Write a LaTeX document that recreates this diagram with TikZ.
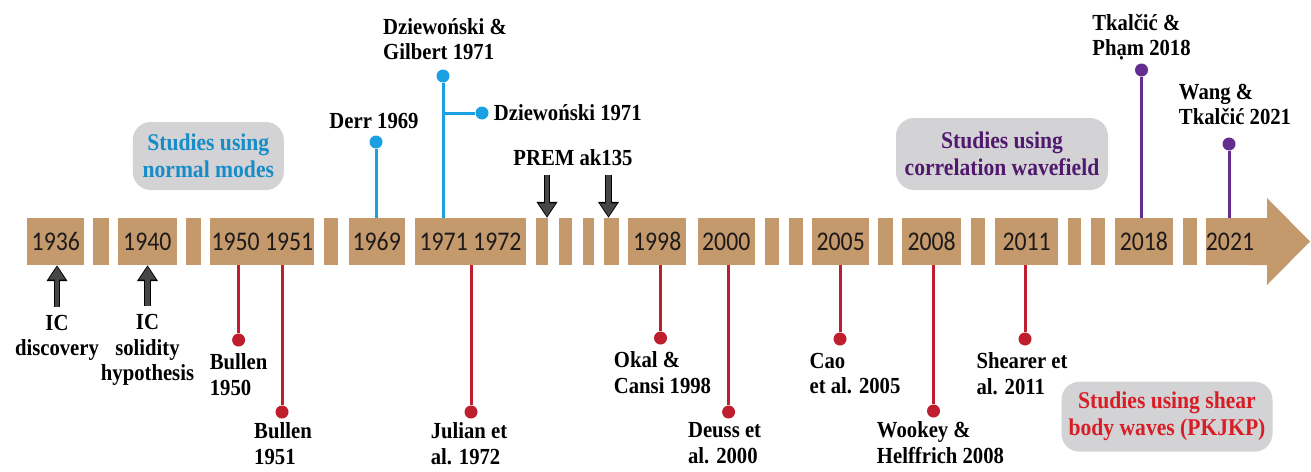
\documentclass[tikz,border=0pt]{standalone}
\usepackage{fontspec}
\setmainfont{Liberation Serif}[FakeStretch=0.9]
\newfontfamily\yearfont[FakeStretch=0.88]{Carlito}
\usetikzlibrary{positioning, arrows.meta}
\definecolor{bartan}{RGB}{196,154,108}
\definecolor{yeartext}{RGB}{30,26,27}
\definecolor{stemblue}{RGB}{27,161,226}
\definecolor{stemred}{RGB}{190,30,45}
\definecolor{stempurple}{RGB}{102,45,145}
\definecolor{boxgray}{RGB}{211,211,213}
\definecolor{normalblue}{RGB}{22,140,200}
\definecolor{corrpurple}{RGB}{80,25,110}
\definecolor{shearred}{RGB}{215,30,38}
\definecolor{arrowgray}{RGB}{70,70,70}
\tikzset{
	yearbox/.style={
		fill=bartan,
		inner sep=0pt,
		minimum height=47pt,
		text=yeartext,
		font=\yearfont\fontsize{27}{27}\selectfont
	},
	stemdot/.style={
		circle,
		fill,
		inner sep=0pt,
		minimum size=13pt
	},
	stem/.style={line width=3pt},
	authors/.style={
		inner sep=0pt,
		align=left,
		font=\bfseries\fontsize{23}{25.5}\selectfont
	},
	studybox/.style={
		fill=boxgray,
		rounded corners=18pt,
		inner sep=0pt,
		align=center,
		font=\bfseries\fontsize{24}{27}\selectfont
	},
	blockarrow/.style={
		draw=arrowgray,
		line width=4.5pt,
		shorten >=1.5pt,
		-{Triangle[width=16pt, length=13pt]},
		preaction={draw=black, line width=6.5pt, shorten >=0pt, -{Triangle[width=20pt, length=16pt]}}
	}
}

\begin{document}
\begin{tikzpicture}[x=1pt, y=-1pt]
	\fill[white] (0,0) rectangle (1311,471);
	\useasboundingbox (0,0) rectangle (1311,471);

	% timeline bar
	\fill[bartan] (1250,218) -- (1267,218) -- (1267,198) -- (1310,241.5) -- (1267,285) -- (1267,265) -- (1250,265) -- cycle;
	\foreach \xa/\xb/\yr/\nm in {27.4/84.2/1936/b1936, 117.8/176.8/1940/b1940, 210.4/314.4/{1950 1951}/b1950,
		348.5/404.9/1969/b1969, 415/526/{1971 1972}/b1971, 628.4/686/1998/b1998, 697.8/754.7/2000/b2000,
		812.4/869/2005/b2005, 902.3/961/2008/b2008, 995.2/1058/2011/b2011, 1115/1172.7/2018/b2018, 1207/1253/2021/b2021} {
		\node[yearbox, minimum width={\xb-\xa}] (\nm) at ({(\xa+\xb)/2},241.5) {\yr};
	}
	\foreach \xa/\xb in {93.4/108.6, 186.4/200.8, 324/338, 535.8/548.4, 558.5/572.4, 582.9/594.3, 604/618.7,
		765/779, 788.5/802.6, 878.3/892.5, 970.8/985.3, 1067.9/1080.7, 1090.6/1105.1, 1182.6/1197.1} {
		\fill[bartan] (\xa,218) rectangle (\xb,265);
	}

	% normal modes (blue)
	\begin{scope}[stemblue]
	\node[stemdot] (derr) at (376,142) {};
	\draw[stem] (derr) -- (derr |- b1969.north);
	\node[stemdot] (dg) at (443,76) {};
	\draw[stem] (dg) -- (dg |- b1971.north);
	\coordinate (dgfork) at (443,113);
	\node[stemdot] (dz) at (482,113) {};
	\draw[stem] (dgfork) -- (dz);
	\end{scope}
	\node[authors, above=6pt of derr, xshift=-2pt] (derrdsc) {Derr 1969};
	\node[authors, above=9pt of dg, xshift=2pt] (dgdsc) {Dziewoński \&\\Gilbert 1971};
	\node[authors, right=5pt of dz] (dzdsc) {Dziewoński 1971};

	% correlation wavefield (purple)
	\begin{scope}[stempurple]
	\node[stemdot] (tp) at (1141.5,70) {};
	\draw[stem] (tp) -- (tp |- b2018.north);
	\node[stemdot] (wt) at (1229,144) {};
	\draw[stem] (wt) -- (wt |- b2021.north);
	\end{scope}
	\node[authors, above=3pt of tp] (tpdsc) {Tkalčić \&\\Phạm 2018};
	\node[authors, above=12pt of wt, xshift=6pt] (wtdsc) {Wang \&\\Tkalčić 2021};

	% PKJKP (red)
	\foreach \nm/\x/\y/\blk/\dx/\gap/\txt in {
		bullen50/238.6/340/b1950/0/7/{Bullen\\1950},
		bullen51/282/412/b1950/1/4/{Bullen\\1951},
		julian/471/412/b1971/-2/4/{Julian et\\al. 1972},
		okal/660.5/338/b1998/2/7/{Okal \&\\Cansi 1998},
		deuss/728.6/412/b2000/-4/4/{Deuss et\\al. 2000},
		cao/840/339/b2005/15/7/{Cao\\et al. 2005},
		wookey/933.5/411/b2008/7/4/{Wookey \&\\Helffrich 2008},
		shearer/1025/339/b2011/-3/7/{Shearer et\\al. 2011}} {
		\node[stemdot, stemred] (\nm) at (\x,\y) {};
		\draw[stem, stemred] (\nm) -- (\nm |- \blk.south);
		\node[authors, below=\gap pt of \nm, xshift=\dx] {\txt};
	}

	% milestones
	\node[authors, align=center] (icdisc) at (57,338) {IC\\discovery};
	\node[authors, align=center] (icsolid) at (147.5,350) {IC\\solidity\\hypothesis};
	\draw[blockarrow] ([yshift=8pt]icdisc.north) -- (icdisc.north |- b1936.south);
	\draw[blockarrow] ([yshift=8pt]icsolid.north) -- (icsolid.north |- b1940.south);
	\node[authors] (prem) at (573,158) {PREM ak135};
	\coordinate (premtail) at (547,175);
	\coordinate (aktail) at (608.5,175);
	\draw[blockarrow] (premtail) -- (premtail |- b1971.north);
	\draw[blockarrow] (aktail) -- (aktail |- b1971.north);

	% study categories
	\node[studybox, minimum width=151pt, minimum height=68pt, text=normalblue] (normalbox) at (208.3,156) {Studies using\\normal modes};
	\node[studybox, minimum width=212pt, minimum height=72pt, text=corrpurple] (corrbox) at (1002,154) {Studies using\\correlation wavefield};
	\node[studybox, minimum width=211pt, minimum height=70pt, text=shearred] (shearbox) at (1167,416.7) {Studies using shear\\body waves (PKJKP)};
\end{tikzpicture}
\end{document}
